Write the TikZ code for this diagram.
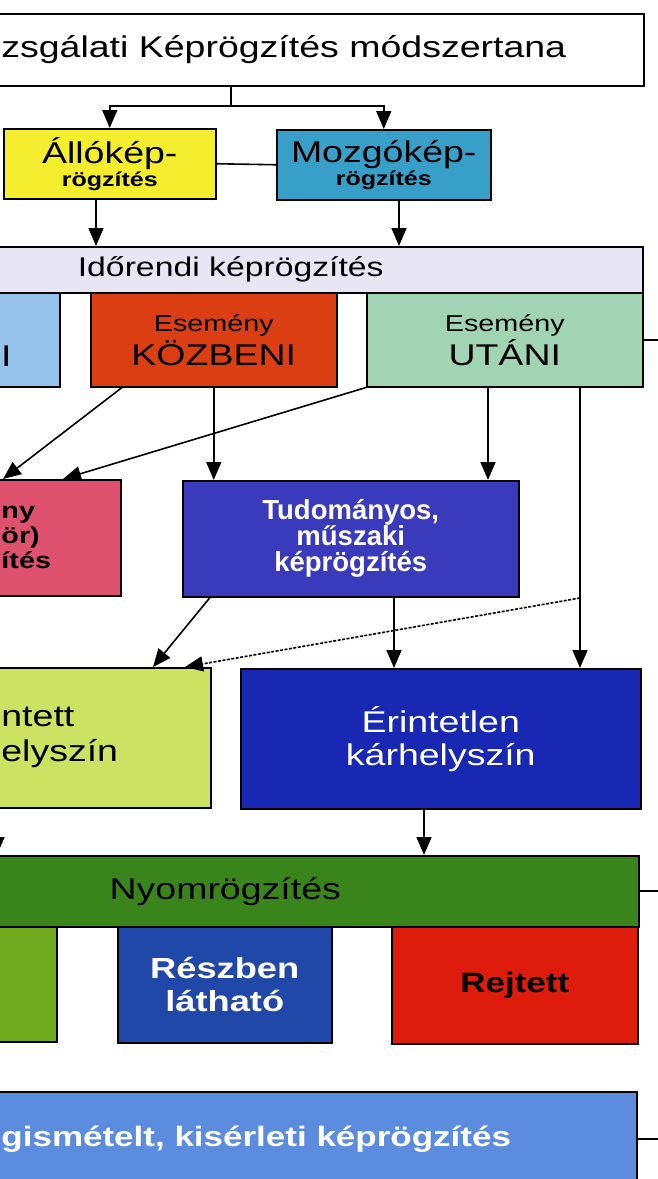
\documentclass[tikz,border=0pt]{standalone}
\usepackage{fontspec}
\setmainfont{Liberation Sans}[FakeStretch=1.25]
\newfontfamily\plainfont{Liberation Sans}
\usetikzlibrary{arrows.meta}

\newlength{\du}
\setlength{\du}{1pt}

\definecolor{stillcolor}{RGB}{244,238,46}
\definecolor{motioncolor}{RGB}{56,160,200}
\definecolor{chronocolor}{RGB}{232,230,245}
\definecolor{beforecolor}{RGB}{150,195,235}
\definecolor{duringcolor}{RGB}{220,62,20}
\definecolor{aftercolor}{RGB}{160,212,178}
\definecolor{pinkcolor}{RGB}{222,82,112}
\definecolor{scicolor}{RGB}{58,58,188}
\definecolor{touchedcolor}{RGB}{205,226,98}
\definecolor{intactcolor}{RGB}{24,40,178}
\definecolor{tracecolor}{RGB}{58,132,28}
\definecolor{visiblecolor}{RGB}{112,170,30}
\definecolor{partcolor}{RGB}{32,72,168}
\definecolor{hiddencolor}{RGB}{222,28,12}
\definecolor{repeatcolor}{RGB}{92,140,222}

\newcommand{\txtL}{\fontsize{30}{34}\selectfont}
\newcommand{\txtM}{\fontsize{27}{30}\selectfont}
\newcommand{\txtE}{\fontsize{23}{26}\selectfont}

\begin{document}
\begin{tikzpicture}
\pgftransformxscale{1.000000}
\pgftransformyscale{-1.000000}
\tikzset{
  box/.style={draw=black, line width=1.5pt, inner sep=0pt, anchor=north west, align=center, text=black},
  conn/.style={line width=1.6pt},
  arrow/.style={conn, -{Triangle[length=18pt,width=15pt]}},
}
\useasboundingbox (0\du,0\du) rectangle (658\du,1179\du);
\clip (0\du,0\du) rectangle (658\du,1179\du);

% top row
\node[box, fill=white, minimum width=720\du, minimum height=72\du, font=\txtL] (title) at (-77\du,13\du) {zsgálati Képrögzítés módszertana};
\node[box, fill=stillcolor, minimum width=212\du, minimum height=70\du, font=\fontsize{20}{23}\selectfont] (still) at (3\du,128\du) {{\txtL Állókép-}\\{\bfseries rögzítés}};
\node[box, fill=motioncolor, minimum width=214\du, minimum height=70\du, font=\fontsize{20}{23}\selectfont] (motion) at (276\du,129\du) {{\txtL Mozgókép-}\\{\bfseries rögzítés}};

% time order
\node[box, fill=chronocolor, minimum width=824\du, minimum height=46\du, font=\txtM] (chrono) at (-182\du,246\du) {Időrendi képrögzítés};
\node[box, fill=beforecolor, minimum width=107\du, minimum height=94\du, font=\txtL] (before) at (-48\du,292\du) {{\txtE\vphantom{É}}\\I};
\node[box, fill=duringcolor, minimum width=246\du, minimum height=94\du, font=\txtL] (during) at (90\du,292\du) {{\txtE Esemény}\\KÖZBENI};
\node[box, fill=aftercolor, minimum width=276\du, minimum height=94\du, font=\txtL] (after) at (366\du,292\du) {{\txtE Esemény}\\UTÁNI};

\node[box, fill=pinkcolor, minimum width=189\du, minimum height=116\du, align=left, font=\fontsize{23}{25}\selectfont\bfseries] (pink) at (-69\du,479\du) {ny\\ör)\\ítés};
\node[box, fill=scicolor, minimum width=336\du, minimum height=116\du, text=white, font={\plainfont\fontsize{27.5}{26}\selectfont\bfseries}] (sci) at (182\du,480\du) {Tudományos,\\műszaki\\képrögzítés};

% scene
\node[box, fill=touchedcolor, minimum width=302\du, minimum height=140\du, align=left, font=\fontsize{30}{35}\selectfont] (touched) at (-92\du,667\du) {ntett\\elyszín};
\node[box, fill=intactcolor, minimum width=400\du, minimum height=140\du, text=white, font=\fontsize{30}{33}\selectfont] (intact) at (240\du,668\du) {Érintetlen\\kárhelyszín};

% traces
\node[box, fill=tracecolor, minimum width=827\du, minimum height=71\du, font=\txtL] (nyom) at (-189\du,855\du) {Nyomrögzítés};
\node[box, fill=visiblecolor, minimum width=116\du, minimum height=115\du] (visible) at (-60\du,926\du) {};
\node[box, fill=partcolor, minimum width=214\du, minimum height=116\du, text=white, font=\fontsize{29}{33}\selectfont\bfseries] (part) at (117\du,926\du) {Részben\\látható};
\node[box, fill=hiddencolor, minimum width=246\du, minimum height=117\du, font=\fontsize{28}{30}\selectfont\bfseries] (hidden) at (391\du,926\du) {Rejtett};

\node[box, fill=repeatcolor, minimum width=761\du, minimum height=94\du, text=white, font=\fontsize{28}{30}\selectfont\bfseries] (repeat) at (-125\du,1091\du) {gismételt, kisérleti képrögzítés};

% connectors
\coordinate (split) at (231\du,106\du);
\draw[conn] (title.south -| split) -- (split);
\draw[arrow] (split) -| (still.north);
\draw[arrow] (split) -| (motion.north);
\draw[conn] (still.east) -- (motion.west);
\draw[arrow] (still.south -| 96\du,0) -- (chrono.north -| 96\du,0);
\draw[arrow] (motion.south -| 399\du,0) -- (chrono.north -| 399\du,0);

\draw[arrow] (during.south -| 122\du,0) -- (pink.north -| 3\du,0);
\draw[arrow] (after.south west) -- (pink.north -| 63\du,0);
\draw[arrow] (during.south) -- (sci.north -| during.south);
\draw[arrow] (after.south -| 488\du,0) -- (sci.north -| 488\du,0);
\coordinate (fork) at (580\du,598\du);
\draw[arrow] (after.south -| fork) -- (intact.north -| fork);
\draw[arrow, dash pattern=on 3pt off 1.5pt] (fork) -- (touched.north -| 185\du,0);
\draw[arrow] (sci.south -| 210\du,0) -- (touched.north -| 153\du,0);
\draw[arrow] (sci.south -| 394\du,0) -- (intact.north -| 394\du,0);

\draw[arrow] (intact.south -| 424\du,0) -- (nyom.north -| 424\du,0);
\draw[arrow] (touched.south -| -3\du,0) -- (nyom.north -| -3\du,0);

% right stubs
\draw[conn] (after.east) -- ++(20\du,0);
\draw[conn] (nyom.east) -- ++(24\du,0);
\draw[conn] (repeat.east) -- ++(26\du,0);
\end{tikzpicture}
\end{document}
